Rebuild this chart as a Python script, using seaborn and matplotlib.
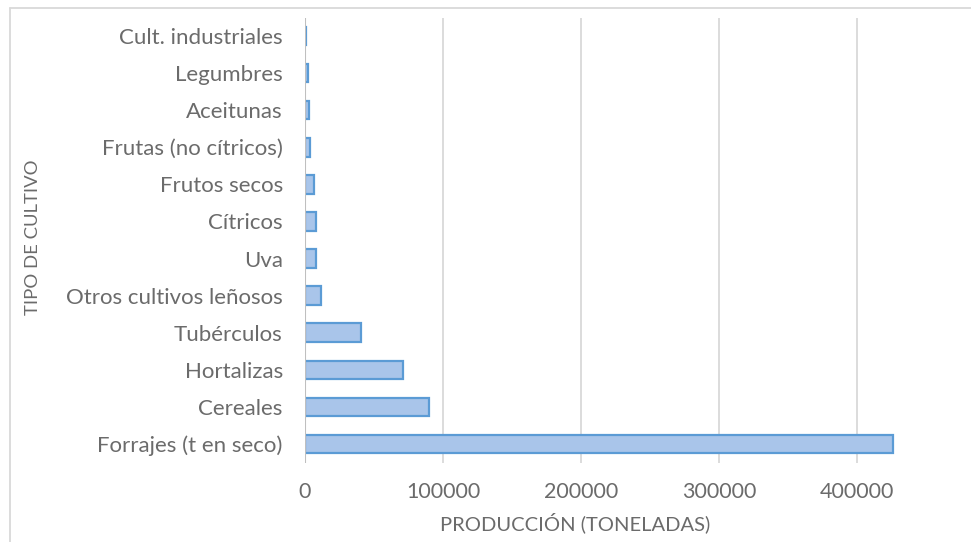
import matplotlib
matplotlib.use("Agg")
import matplotlib.pyplot as plt
import seaborn as sns
import pandas as pd
from matplotlib.lines import Line2D

cultivos = ["Cult. industriales", "Legumbres", "Aceitunas", "Frutas (no cítricos)",
            "Frutos secos", "Cítricos", "Uva", "Otros cultivos leñosos",
            "Tubérculos", "Hortalizas", "Cereales", "Forrajes (t en seco)"]
produccion = [1000, 2400, 2900, 3800, 6500, 7700, 8000, 11600,
              40600, 71000, 89900, 426000]
ticks = [0, 100000, 200000, 300000, 400000]

df = pd.DataFrame({"cultivo": cultivos, "produccion": produccion})

sns.set_style("white")
plt.rcParams['font.family'] = ['Lato', 'DejaVu Sans']
gris = "#6b6b6b"

fig = plt.figure(figsize=(9.71, 5.42), dpi=100)
ax = fig.add_axes([305/971, 1 - 462.5/542, 1 - 305/971, (462.5 - 17.5)/542])

sns.barplot(data=df, x="produccion", y="cultivo", orient="h", ax=ax,
            color="#a9c5ea", edgecolor="#5b9bd5", linewidth=1.6,
            width=0.5, saturation=1)

ax.set_xlim(0, 482600)
ax.set_ylim(len(cultivos) - 0.5, -0.5)
ax.set_xticks(ticks)
ax.set_xticklabels([str(t) for t in ticks])
for t in ticks[1:]:
    ax.axvline(t, color="#d9d9d9", lw=1.3, zorder=0)
ax.axvline(0, color="#bfbfbf", lw=1.5, zorder=3)
for s in ax.spines.values():
    s.set_visible(False)
ax.tick_params(axis="y", length=0, pad=16, labelsize=16, labelcolor=gris)
ax.tick_params(axis="x", length=0, pad=14, labelsize=15.5, labelcolor=gris)
ax.set_xlabel("")
ax.set_ylabel("")

fig.text(575/971, 1 - 523/542, "PRODUCCIÓN (TONELADAS)", ha="center", va="center",
         fontsize=14.5, color=gris)
fig.text(33/971, 1 - 237/542, "TIPO DE CULTIVO", ha="center", va="center",
         rotation=90, fontsize=13.3, color=gris)

# marco del gráfico
fig.add_artist(Line2D([10/971, 10/971], [0, 1 - 8/542], color="#d9d9d9", lw=1.3))
fig.add_artist(Line2D([10/971, 1], [1 - 8/542, 1 - 8/542], color="#d9d9d9", lw=1.3))

fig.savefig("out.png", dpi=100)
